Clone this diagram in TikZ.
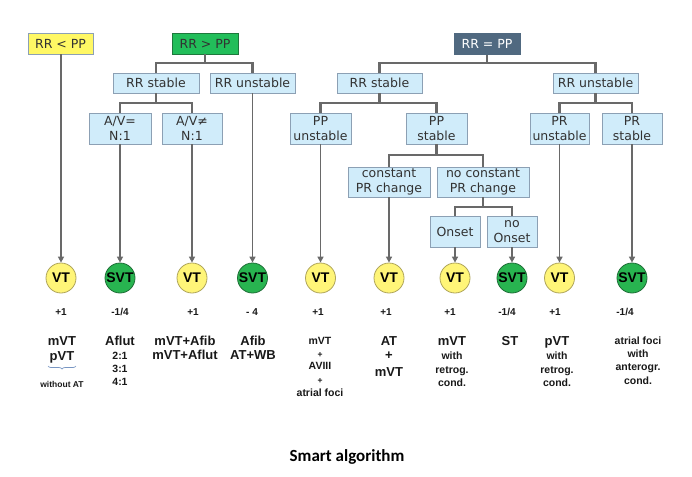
\documentclass[tikz,border=0pt]{standalone}
\usepackage{fontspec}
\setmainfont{DejaVu Sans}
\newfontfamily\arialf{Liberation Sans}
\newfontfamily\calib{Carlito}
\usetikzlibrary{arrows.meta,decorations.pathreplacing}
\definecolor{boxfill}{RGB}{208,236,250}
\definecolor{boxline}{RGB}{140,160,180}
\definecolor{boxtext}{RGB}{50,50,50}
\definecolor{treeline}{RGB}{105,105,105}
\definecolor{ylfill}{RGB}{255,248,100}
\definecolor{grfill}{RGB}{34,190,90}
\definecolor{grline}{RGB}{30,120,60}
\definecolor{eqfill}{RGB}{80,105,128}
\definecolor{vtfill}{RGB}{255,245,120}
\definecolor{vtline}{RGB}{175,165,90}
\definecolor{svtfill}{RGB}{40,180,80}
\definecolor{svtline}{RGB}{30,110,55}
\definecolor{txt}{RGB}{25,25,25}
\definecolor{bracec}{RGB}{120,150,195}
\begin{document}
\begin{tikzpicture}[x=1pt,y=-1pt,
  bx/.style={draw=boxline, fill=boxfill, line width=0.8pt, inner sep=0pt, text=boxtext,
    font=\fontsize{12.5}{14.5}\selectfont, align=center},
  hdr/.style={bx, minimum height=21pt},
  one/.style={bx, minimum height=20pt},
  two/.style={bx, minimum height=31pt},
  tree/.style={draw=treeline, line width=2.8pt},
  arr/.style={draw=treeline, line width=1.6pt, -{Triangle[length=6pt,width=6pt]}},
  circ/.style={circle, minimum size=30pt, inner sep=0pt, line width=0.8pt, text=black,
    font=\arialf\bfseries\fontsize{14}{14}\selectfont},
  vt/.style={circ, fill=vtfill, draw=vtline},
  svt/.style={circ, fill=svtfill, draw=svtline},
  score/.style={anchor=mid, text=txt, font=\arialf\bfseries\fontsize{10}{10}\selectfont},
  big/.style={anchor=mid, text=txt, font=\arialf\bfseries\fontsize{13}{13}\selectfont},
  sml/.style={anchor=mid, text=txt, font=\arialf\bfseries\fontsize{10.5}{10.5}\selectfont},
  tiny/.style={anchor=mid, text=txt, font=\arialf\bfseries\fontsize{8.5}{8.5}\selectfont},
]
\useasboundingbox[fill=white] (0,0) rectangle (692,476);

% header boxes
\node[hdr, fill=ylfill, minimum width=65pt] (lt) at (60.5,43.5) {RR < PP};
\node[hdr, fill=grfill, draw=grline, minimum width=66pt] (gt) at (205,43.5) {RR > PP};
\node[hdr, fill=eqfill, draw=eqfill, text=white, minimum width=66pt] (eq) at (487,44) {RR = PP};

% level 2
\node[one, minimum width=86pt] (rs1) at (156,83) {RR stable};
\node[one, minimum width=85pt] (ru1) at (252.5,83) {RR unstable};
\node[one, minimum width=85pt] (rs2) at (379.5,83) {RR stable};
\node[one, minimum width=85pt] (ru2) at (595.5,83) {RR unstable};

% level 3
\node[two, minimum width=62pt] (av1) at (120,128.5) {A/V=\\N:1};
\node[two, minimum width=60pt] (av2) at (192,128.5) {A/V≠\\N:1};
\node[two, minimum width=61pt] (ppu) at (320.5,128.5) {PP\\unstable};
\node[two, minimum width=61pt] (pps) at (436.5,128.5) {PP\\stable};
\node[two, minimum width=59pt] (pru) at (559.5,128.5) {PR\\unstable};
\node[two, minimum width=60pt] (prs) at (632,128.5) {PR\\stable};

% level 4
\node[two, minimum width=82pt, minimum height=30pt] (cpr) at (389,182) {constant\\PR change};
\node[two, minimum width=92pt, minimum height=30pt] (ncpr) at (483,182) {no constant\\PR change};

% level 5
\node[two, minimum width=50pt] (ons) at (455,231.5) {Onset};
\node[two, minimum width=50pt] (nons) at (512,231.5) {no\\Onset};

% bar coordinates
\coordinate (bgt) at (205,63);
\coordinate (beq) at (487,63);
\coordinate (brs1) at (156,103);
\coordinate (brs2) at (379.5,103);
\coordinate (bru2) at (595.5,103);
\coordinate (bpps) at (436.5,155);
\coordinate (bncpr) at (483,207);

% tree connectors
\draw[tree] (gt.south) -- (bgt);
\draw[tree] (rs1.north) |- (bgt) -| (ru1.north);
\draw[tree] (eq.south) -- (beq);
\draw[tree] (rs2.north) |- (beq) -| (ru2.north);
\draw[tree] (rs1.south) -- (brs1);
\draw[tree] (av1.north) |- (brs1) -| (av2.north);
\draw[tree] (rs2.south) -- (brs2);
\draw[tree] (ppu.north) |- (brs2) -| (pps.north);
\draw[tree] (ru2.south) -- (bru2);
\draw[tree] (pru.north) |- (bru2) -| (prs.north);
\draw[tree] (pps.south) -- (bpps);
\draw[tree] (cpr.north) |- (bpps) -| (ncpr.north);
\draw[tree] (ncpr.south) -- (bncpr);
\draw[tree] (ons.north) |- (bncpr) -| (nons.north);

% outcome circles
\node[vt]  (c1)  at (61,278)  {VT};
\node[svt] (c2)  at (120,278) {SVT};
\node[vt]  (c3)  at (192,278) {VT};
\node[svt] (c4)  at (252.5,278) {SVT};
\node[vt]  (c5)  at (320.5,278) {VT};
\node[vt]  (c6)  at (389,278) {VT};
\node[vt]  (c7)  at (455,278) {VT};
\node[svt] (c8)  at (512,278) {SVT};
\node[vt]  (c9)  at (559.5,278) {VT};
\node[svt] (c10) at (632,278) {SVT};

% arrows
\draw[arr] (lt.south -| c1) -- (c1.north);
\draw[arr] (av1.south) -- (c2.north);
\draw[arr] (av2.south) -- (c3.north);
\draw[arr] (ru1.south) -- (c4.north);
\draw[arr] (ppu.south) -- (c5.north);
\draw[arr] (cpr.south) -- (c6.north);
\draw[arr] (ons.south) -- (c7.north);
\draw[arr] (nons.south) -- (c8.north);
\draw[arr] (pru.south) -- (c9.north);
\draw[arr] (prs.south) -- (c10.north);

% scores
\node[score] (s1)  at (61,313)  {+1};
\node[score] (s2)  at (120,313) {-1/4};
\node[score] (s3)  at (193,313) {+1};
\node[score] (s4)  at (252,313) {- 4};
\node[score] (s5)  at (318,313) {+1};
\node[score] (s6)  at (386,313) {+1};
\node[score] (s7)  at (450,313) {+1};
\node[score] (s8)  at (507,313) {-1/4};
\node[score] (s9)  at (555,313) {+1};
\node[score] (s10) at (625,313) {-1/4};

% column 1
\node[big] (d1a) at (62,343) {mVT};
\node[big] (d1b) at (62,358) {pVT};
\coordinate (br1) at (48,366);
\coordinate (br2) at (76,366);
\draw[bracec, line width=0.7pt, decorate, decoration={brace, amplitude=3pt, mirror}] (br1) -- (br2);
\node[tiny] (d1c) at (62,385) {without AT};
% column 2
\node[big] (d2a) at (120,343) {Aflut};
\node[sml] (d2b) at (120,357) {2:1};
\node[sml] (d2c) at (120,370) {3:1};
\node[sml] (d2d) at (120,383) {4:1};
% column 3
\node[big] (d3a) at (185,343) {mVT+Afib};
\node[big] (d3b) at (185,357) {mVT+Aflut};
% column 4
\node[big] (d4a) at (253,343) {Afib};
\node[big] (d4b) at (253,357) {AT+WB};
% column 5
\node[sml] (d5a) at (320,342) {mVT};
\node[tiny] (d5b) at (320,355) {+};
\node[sml] (d5c) at (320,367) {AVIII};
\node[tiny] (d5d) at (320,381) {+};
\node[sml] (d5e) at (320,394) {atrial foci};
% column 6
\node[big] (d6a) at (389,343) {AT};
\node[big] (d6b) at (389,357) {+};
\node[big] (d6c) at (389,374) {mVT};
% column 7
\node[big] (d7a) at (452,343) {mVT};
\node[sml] (d7b) at (452,357) {with};
\node[sml] (d7c) at (452,371) {retrog.};
\node[sml] (d7d) at (452,384) {cond.};
% column 8
\node[big] (d8a) at (510,343) {ST};
% column 9
\node[big] (d9a) at (557,343) {pVT};
\node[sml] (d9b) at (557,357) {with};
\node[sml] (d9c) at (557,371) {retrog.};
\node[sml] (d9d) at (557,384) {cond.};
% column 10
\node[sml] (d10a) at (638,342) {atrial foci};
\node[sml] (d10b) at (638,355) {with};
\node[sml] (d10c) at (638,368) {anterogr.};
\node[sml] (d10d) at (638,382) {cond.};

% title
\node[anchor=mid, text=black, font=\calib\bfseries\fontsize{17}{17}\selectfont] (title) at (347,459) {Smart algorithm};
\end{tikzpicture}
\end{document}
